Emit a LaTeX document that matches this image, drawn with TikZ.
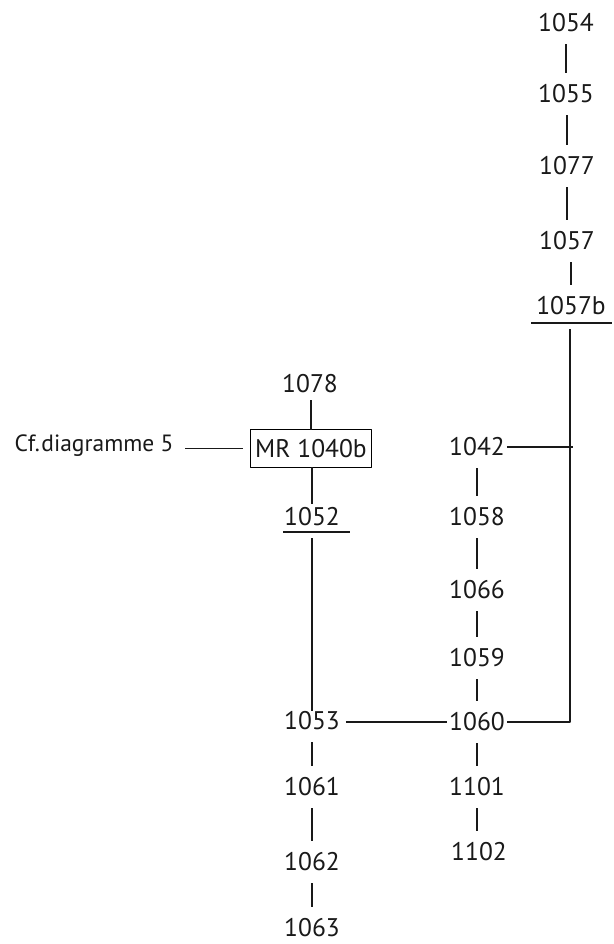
\documentclass[tikz,border=0pt]{standalone}
\usepackage{fontspec}
\setmainfont{PT Sans}
\usetikzlibrary{calc}

\begin{document}
\begin{tikzpicture}[x=1pt, y=-1pt, line join=round,
    num/.style={inner sep=0pt, outer xsep=2pt, outer ysep=12pt,
                text=black!90, font=\fontsize{25.5}{30}\selectfont},
    link/.style={line width=1.3pt, black!90},
  ]
    \useasboundingbox (0,0) rectangle (613,944);

    % colonne de droite
    \node[num] (n1054) at (566,23) {1054};
    \node[num] (n1055) at (566,94) {1055};
    \node[num] (n1077) at (567,166) {1077};
    \node[num] (n1057) at (567,241) {1057};
    \node[num] (n1057b) at (571,306) {1057b};
    \draw[link] (n1054) -- (n1055);
    \draw[link] (n1055.south -| n1077) -- (n1077);
    \draw[link] (n1077) -- (n1057);
    \draw[link] (n1057.south -| n1057b) -- (n1057b);
    % soulignement de 1057b
    \coordinate (u57a) at (531,323);
    \coordinate (u57b) at (612,323);
    \draw[link] (u57a) -- (u57b);

    % colonne du milieu
    \node[num] (n1042) at (477,447) {1042};
    \node[num] (n1058) at (477,517) {1058};
    \node[num] (n1066) at (477,590) {1066};
    \node[num] (n1059) at (477,658) {1059};
    \node[num] (n1060) at (477,722) {1060};
    \node[num] (n1101) at (477,787) {1101};
    \node[num] (n1102) at (479,852) {1102};
    \draw[link] (n1042) -- (n1058);
    \draw[link] (n1058) -- (n1066);
    \draw[link] (n1066) -- (n1059);
    \draw[link] (n1059) -- (n1060);
    \draw[link] (n1060) -- (n1101);
    \draw[link] (n1101.south) -- (n1101.south |- n1102.north);

    % liaison 1057b -- 1060 (et 1042)
    \coordinate (top57) at (570,329);
    \coordinate (corner) at (top57 |- n1060.east);
    \draw[link] (top57) -- (corner) -- (n1060.east);
    \draw[link] (n1042.east) -- ([xshift=3pt]top57 |- n1042.east);

    % colonne de gauche
    \node[num] (n1078) at (310,384) {1078};
    \node[num, draw, line width=1.3pt, outer sep=0pt, inner xsep=5pt, inner ysep=9.5pt]
        (mr) at (311,448.5) {MR 1040b};
    \node[num] (n1052) at (312,517) {1052};
    \node[num] (n1053) at (312,721) {1053};
    \node[num] (n1061) at (312,787) {1061};
    \node[num] (n1062) at (312,862) {1062};
    \node[num] (n1063) at (312,928) {1063};
    \draw[link, shorten <=-5pt] (n1078.south -| mr) -- (mr);
    \draw[link, shorten >=-8pt] (mr.south -| n1052) -- (n1052);
    \draw[link] (n1053) -- (n1061);
    \draw[link] (n1061) -- (n1062);
    \draw[link] (n1062) -- (n1063);
    % soulignement de 1052
    \coordinate (u52a) at (283,532);
    \coordinate (u52b) at (350,532);
    \draw[link] (u52a) -- (u52b);
    \draw[link] (n1052.south) -- ([yshift=-11pt]n1053.north);
    \draw[link, shorten <=4pt] (n1053.east |- n1060.west) -- (n1060.west);

    % renvoi
    \node[num, outer ysep=0pt, font=\fontsize{23.5}{28}\selectfont] (cf) at (94,446)
        {Cf.\kern1.5pt diagramme 5};
    \draw[link, shorten <=10pt, shorten >=7pt] (cf.east |- mr.west) -- (mr.west);
\end{tikzpicture}
\end{document}
